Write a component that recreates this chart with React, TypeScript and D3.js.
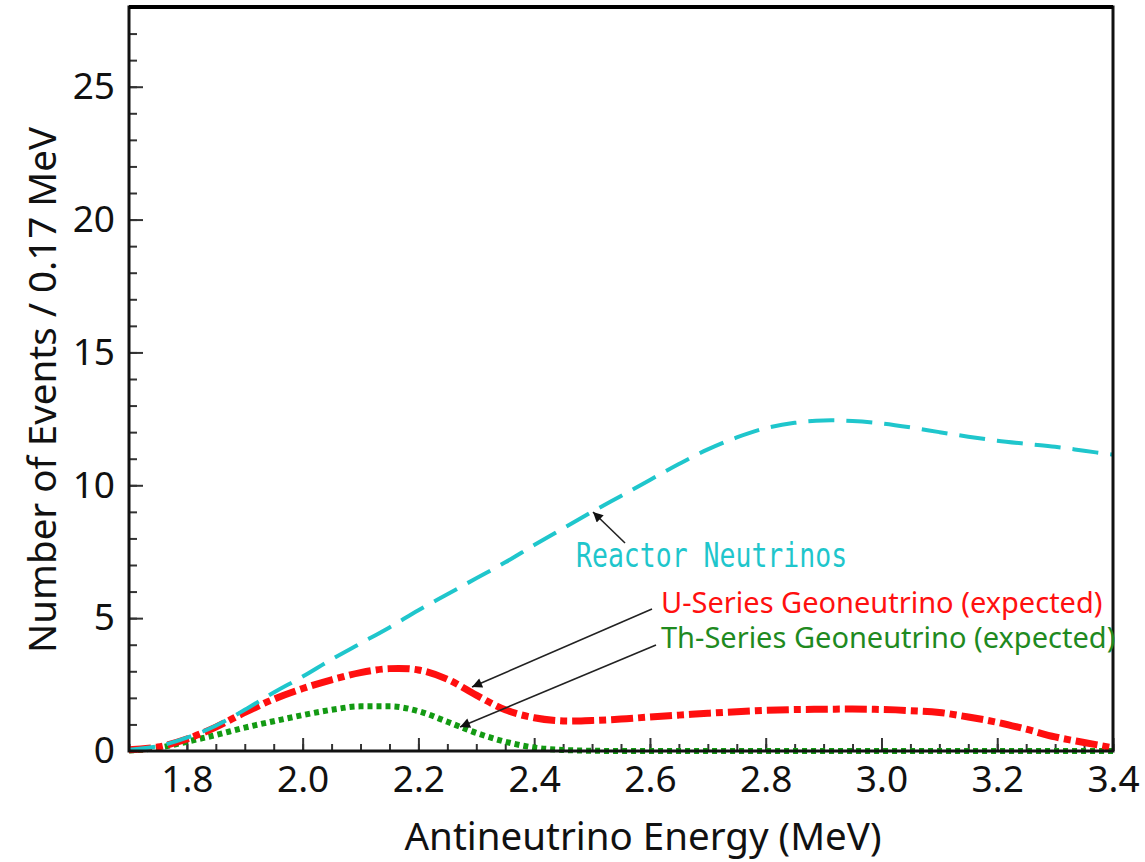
import React, { useEffect, useRef } from "react";
import * as d3 from "d3";

// energy grid (MeV) and the three expected spectra
const energies = [
  1.70, 1.75, 1.80, 1.85, 1.90, 1.95, 2.00, 2.05, 2.10, 2.15, 2.20, 2.25,
  2.30, 2.35, 2.40, 2.45, 2.50, 2.55, 2.60, 2.65, 2.70, 2.75, 2.80, 2.85,
  2.90, 2.95, 3.00, 3.05, 3.10, 3.15, 3.20, 3.25, 3.30, 3.35, 3.40,
];
const reactor = [
  0.05, 0.18, 0.5, 0.95, 1.55, 2.2, 2.8, 3.45, 4.05, 4.65, 5.3, 5.9,
  6.5, 7.1, 7.75, 8.38, 9.0, 9.6, 10.2, 10.8, 11.35, 11.8, 12.15, 12.35,
  12.44, 12.42, 12.33, 12.18, 12.0, 11.83, 11.68, 11.56, 11.45, 11.3, 11.15,
];
const uSeries = [
  0.05, 0.15, 0.45, 0.9, 1.45, 1.95, 2.35, 2.68, 2.95, 3.1, 3.05, 2.7,
  2.1, 1.55, 1.25, 1.13, 1.15, 1.2, 1.28, 1.35, 1.42, 1.48, 1.53, 1.56,
  1.57, 1.58, 1.56, 1.52, 1.45, 1.28, 1.08, 0.82, 0.53, 0.32, 0.12,
];
const thSeries = [
  0.02, 0.12, 0.35, 0.6, 0.88, 1.12, 1.35, 1.55, 1.68, 1.68, 1.5, 1.1,
  0.68, 0.35, 0.13, 0.04, 0.01, 0, 0, 0, 0, 0, 0, 0,
  0, 0, 0, 0, 0, 0, 0, 0, 0, 0, 0,
];

const xTicks = [1.8, 2.0, 2.2, 2.4, 2.6, 2.8, 3.0, 3.2, 3.4];
const yTicks = [0, 5, 10, 15, 20, 25];

const W = 1145;
const H = 862;

const Chart = () => {
  const ref = useRef<SVGSVGElement>(null);

  useEffect(() => {
    if (!ref.current) return;
    const svg = d3.select(ref.current);
    svg.selectAll("*").remove();

    const left = 129, right = 1113, top = 7, bottom = 751;
    const font = "'Noto Sans', sans-serif";

    const x = d3.scaleLinear().domain([1.7, 3.4]).range([left, right]);
    const y = d3.scaleLinear().domain([0, 28]).range([bottom, top]);

    svg.append("rect").attr("width", W).attr("height", H).attr("fill", "#fff");

    const defs = svg.append("defs");
    defs.append("marker")
      .attr("id", "head")
      .attr("viewBox", "0 0 10 10")
      .attr("refX", 10)
      .attr("refY", 5)
      .attr("markerWidth", 14)
      .attr("markerHeight", 10)
      .attr("markerUnits", "userSpaceOnUse")
      .attr("orient", "auto")
      .append("path")
      .attr("d", "M0,0 L10,5 L0,10 z")
      .attr("fill", "#111");

    // minor ticks
    const xMinor = d3.range(1.7, 3.4001, 0.05);
    svg.append("g")
      .attr("transform", `translate(0,${bottom})`)
      .call(d3.axisBottom(x).tickValues(xMinor).tickSize(-7).tickFormat(() => ""))
      .call(g => g.select(".domain").remove())
      .call(g => g.selectAll("line").attr("stroke", "#333").attr("stroke-width", 2));

    svg.append("g")
      .attr("transform", `translate(${left},0)`)
      .call(d3.axisLeft(y).tickValues(d3.range(0, 28, 1)).tickSize(-8).tickFormat(() => ""))
      .call(g => g.select(".domain").remove())
      .call(g => g.selectAll("line").attr("stroke", "#333").attr("stroke-width", 2));

    // major ticks + labels
    svg.append("g")
      .attr("transform", `translate(0,${bottom})`)
      .call(d3.axisBottom(x).tickValues(xTicks).tickSize(-13).tickPadding(15).tickFormat(d3.format(".1f")))
      .call(g => g.select(".domain").remove())
      .call(g => g.selectAll("line").attr("stroke", "#333").attr("stroke-width", 2))
      .call(g => g.selectAll("text").attr("font-family", font).attr("font-size", 37).attr("fill", "#111"));

    svg.append("g")
      .attr("transform", `translate(${left},0)`)
      .call(d3.axisLeft(y).tickValues(yTicks).tickSize(-14).tickPadding(14))
      .call(g => g.select(".domain").remove())
      .call(g => g.selectAll("line").attr("stroke", "#333").attr("stroke-width", 2))
      .call(g => g.selectAll("text").attr("font-family", font).attr("font-size", 37).attr("fill", "#111"));

    // curves
    const smooth = d3.line<number>()
      .x((d, i) => x(energies[i]))
      .y(d => y(d))
      .curve(d3.curveCatmullRom.alpha(0.5));
    const mono = d3.line<number>()
      .x((d, i) => x(energies[i]))
      .y(d => y(d))
      .curve(d3.curveMonotoneX);

    svg.append("path")
      .attr("d", mono(thSeries))
      .attr("fill", "none")
      .attr("stroke", "#139a13")
      .attr("stroke-width", 6)
      .attr("stroke-dasharray", "5,4");

    svg.append("path")
      .attr("d", smooth(uSeries))
      .attr("fill", "none")
      .attr("stroke", "#ff0f0f")
      .attr("stroke-width", 7)
      .attr("stroke-dasharray", "22,5,7,5");

    svg.append("path")
      .attr("d", smooth(reactor))
      .attr("fill", "none")
      .attr("stroke", "#1fc6cc")
      .attr("stroke-width", 4)
      .attr("stroke-dasharray", "26,12");

    // frame
    svg.append("rect")
      .attr("x", left).attr("y", top)
      .attr("width", right - left).attr("height", bottom - top)
      .attr("fill", "none")
      .attr("stroke", "#111")
      .attr("stroke-width", 3);
    svg.append("line")
      .attr("x1", left).attr("x2", right).attr("y1", top).attr("y2", top)
      .attr("stroke", "#000").attr("stroke-width", 4);

    // annotations
    const arrows = [
      [625, 543, 593, 512],
      [652, 609, 472, 687],
      [656, 645, 460, 727],
    ];
    arrows.forEach(([x1, y1, x2, y2]) => {
      svg.append("line")
        .attr("x1", x1).attr("y1", y1).attr("x2", x2).attr("y2", y2)
        .attr("stroke", "#222").attr("stroke-width", 1.6)
        .attr("marker-end", "url(#head)");
    });

    svg.append("text")
      .attr("transform", "translate(576,567) scale(1,1.3)")
      .attr("font-family", "'DejaVu Sans Mono', monospace")
      .attr("font-size", 26.5)
      .attr("fill", "#1fc6cc")
      .text("Reactor Neutrinos");

    svg.append("text")
      .attr("x", 661).attr("y", 613)
      .attr("font-family", font).attr("font-size", 29)
      .attr("fill", "#ff1010")
      .text("U-Series Geoneutrino (expected)");

    svg.append("text")
      .attr("x", 661).attr("y", 648)
      .attr("font-family", font).attr("font-size", 29)
      .attr("fill", "#1f8a1f")
      .text("Th-Series Geoneutrino (expected)");

    // axis titles
    svg.append("text")
      .attr("x", 643).attr("y", 850)
      .attr("text-anchor", "middle")
      .attr("font-family", font).attr("font-size", 38.5)
      .attr("fill", "#111")
      .text("Antineutrino Energy (MeV)");

    svg.append("text")
      .attr("transform", "translate(56,390) rotate(-90)")
      .attr("text-anchor", "middle")
      .attr("font-family", font).attr("font-size", 38.5)
      .attr("fill", "#111")
      .text("Number of Events / 0.17 MeV");
  }, []);

  return (
    <svg ref={ref} width={W} height={H}
      style={{ position: "absolute", left: 0, top: 0, display: "block" }} />
  );
};

export default function App() {
  return <Chart />;
}
